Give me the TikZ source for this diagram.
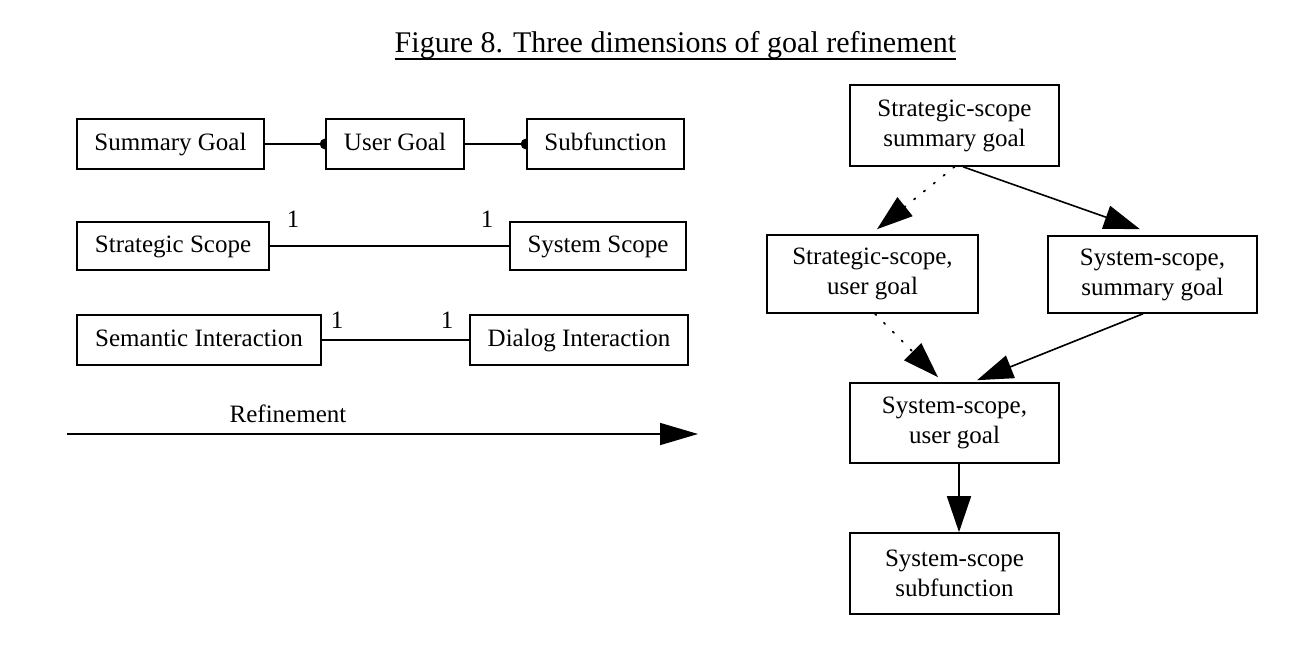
\documentclass[tikz,border=0pt]{standalone}
\usepackage{fontspec}
\setmainfont{Liberation Serif}
\usetikzlibrary{arrows.meta}
\begin{document}
\begin{tikzpicture}[x=1pt,y=-1pt,
  box/.style={draw, line width=1.6pt, inner sep=0pt, font=\fontsize{25}{30}\selectfont, align=center},
  one/.style={text height=17pt, text depth=5pt},
  lbl/.style={inner sep=0pt, font=\fontsize{25}{30}\selectfont},
  conn/.style={line width=1.6pt},
  bigtip/.style={-{Triangle[length=36pt,width=24pt]}},
  reftip/.style={-{Triangle[length=38pt,width=22pt]}},
  dotline/.style={line width=1.8pt, dash pattern=on 1.6pt off 11pt, line cap=round}
]
\useasboundingbox (0,0) rectangle (1296,658);

% title
\node[inner sep=0pt, anchor=base, font=\fontsize{30}{36}\selectfont] (title) at (675.5,53) {Figure 8. Three dimensions of goal refinement};
\draw[line width=2pt] ([yshift=-6pt]title.base west) -- ([yshift=-6pt]title.base east);

% left column
\node[box, one, minimum width=187, minimum height=50] (SG) at (170.5,144) {Summary Goal};
\node[box, one, minimum width=138, minimum height=50] (UG) at (395,144) {User Goal};
\node[box, one, minimum width=157, minimum height=50] (SF) at (605.5,144) {Subfunction};
\draw[conn] (SG.east) -- (UG.west);
\draw[conn] (UG.east) -- (SF.west);
\fill ([yshift=-5.5pt]UG.west) arc[start angle=90, end angle=270, radius=5.5] -- cycle;
\fill ([yshift=-5.5pt]SF.west) arc[start angle=90, end angle=270, radius=5.5] -- cycle;

\node[box, one, minimum width=192, minimum height=48] (SS) at (173,246) {Strategic Scope};
\node[box, one, minimum width=176, minimum height=48] (SyS) at (598,246) {System Scope};
\draw[conn] (SS.east) -- (SyS.west);
\node[lbl] (m1) at (293,219) {1};
\node[lbl] (m2) at (487,219) {1};

\node[box, one, minimum width=244, minimum height=50] (SI) at (199,340) {Semantic Interaction};
\node[box, one, minimum width=218, minimum height=50] (DI) at (579,340) {Dialog Interaction};
\draw[conn] (SI.east) -- (DI.west);
\node[lbl] (m3) at (337,320) {1};
\node[lbl] (m4) at (447,320) {1};

\node[lbl] (ref) at (288,414) {Refinement};
\coordinate (r0) at (67,434);
\coordinate (r1) at (698,434);
\draw[conn, reftip] (r0) -- (r1);

% right graph
\node[box, minimum width=209, minimum height=81] (A) at (954.5,125.5) {Strategic-scope\\summary goal};
\node[box, minimum width=211, minimum height=78] (B) at (872.5,274) {Strategic-scope,\\user goal};
\node[box, minimum width=209, minimum height=77] (C) at (1152.5,274.5) {System-scope,\\summary goal};
\node[box, minimum width=209, minimum height=80] (D) at (954.5,423) {System-scope,\\user goal};
\node[box, minimum width=209, minimum height=81] (E) at (954.5,573.5) {System-scope\\subfunction};

\draw[dotline, bigtip] (A.south) -- ([xshift=4.5pt,yshift=5pt]B.north);
\draw[conn, bigtip] ([xshift=8.5pt]A.south) -- ([xshift=-12.5pt,yshift=6pt]C.north);
\draw[dotline, bigtip] ([xshift=2.5pt]B.south) -- ([xshift=-16.5pt,yshift=5pt]D.north);
\draw[conn, bigtip] ([xshift=-9.5pt]C.south) -- ([xshift=22.5pt,yshift=2pt]D.north);
\draw[conn, bigtip] ([xshift=4.5pt]D.south) -- ([xshift=4.5pt]E.north);
\end{tikzpicture}
\end{document}
